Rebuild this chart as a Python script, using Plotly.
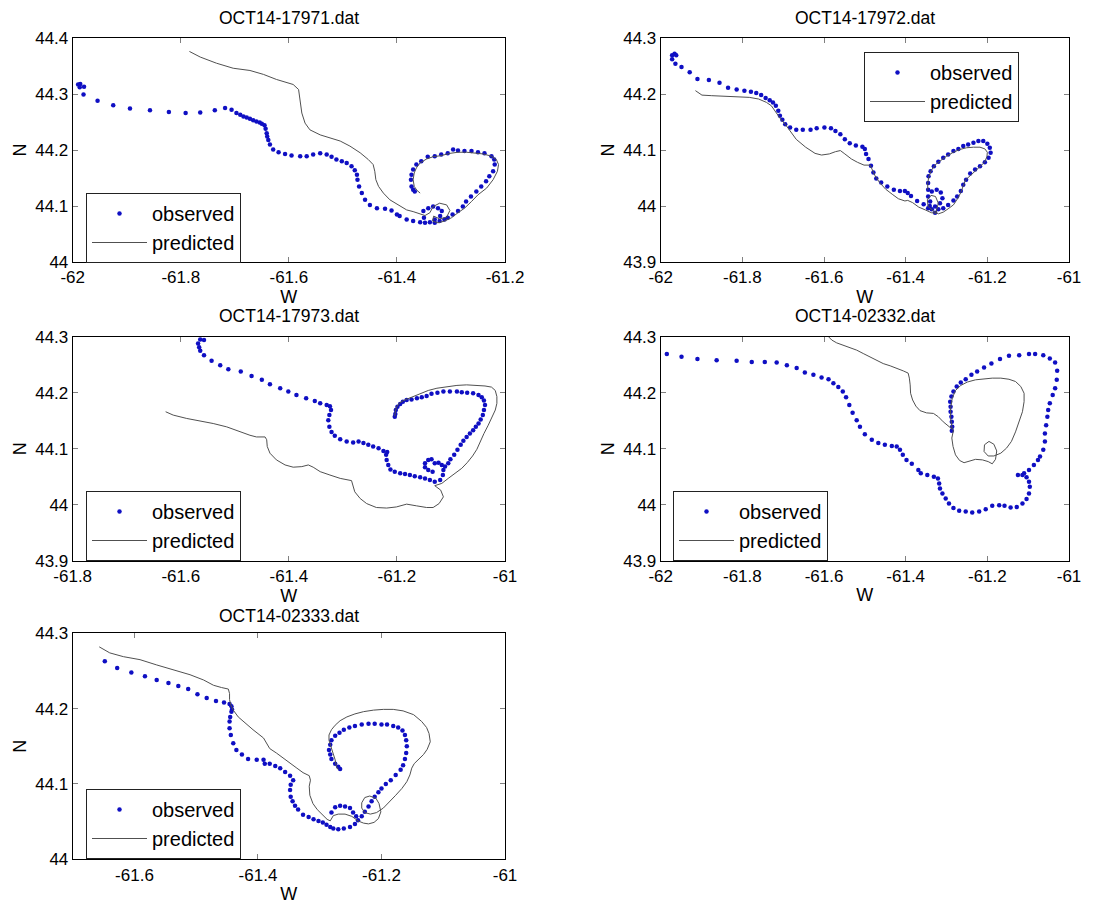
import plotly.graph_objects as go

W, H = 1114, 909
FONT = "Liberation Sans, Arial, Helvetica, sans-serif"
BLUE = "rgb(15,15,195)"
LINE = "#505050"

titles = ["OCT14-17971.dat", "OCT14-17972.dat", "OCT14-17973.dat",
          "OCT14-02332.dat", "OCT14-02333.dat"]

# ---------------- data: (longitude, latitude) ----------------
obs1 = [(-61.990, 44.317), (-61.986, 44.318), (-61.987, 44.312), (-61.979, 44.313), (-61.980, 44.299),
        (-61.954, 44.288), (-61.925, 44.280), (-61.894, 44.274), (-61.857, 44.271), (-61.822, 44.268),
        (-61.791, 44.266), (-61.764, 44.267), (-61.737, 44.271), (-61.718, 44.275), (-61.706, 44.272),
        (-61.697, 44.266), (-61.690, 44.263), (-61.684, 44.260), (-61.678, 44.258), (-61.672, 44.256),
        (-61.666, 44.253), (-61.660, 44.251), (-61.654, 44.249), (-61.650, 44.247), (-61.645, 44.244),
        (-61.643, 44.238), (-61.641, 44.230), (-61.640, 44.224), (-61.638, 44.218), (-61.635, 44.210),
        (-61.629, 44.201), (-61.619, 44.196), (-61.607, 44.193), (-61.595, 44.190), (-61.579, 44.189),
        (-61.567, 44.189), (-61.555, 44.192), (-61.542, 44.194), (-61.530, 44.192), (-61.521, 44.188),
        (-61.512, 44.183), (-61.502, 44.180), (-61.493, 44.177), (-61.484, 44.171), (-61.478, 44.164),
        (-61.474, 44.156), (-61.473, 44.147), (-61.470, 44.135), (-61.465, 44.123), (-61.459, 44.111),
        (-61.450, 44.102), (-61.437, 44.096), (-61.422, 44.095), (-61.410, 44.092), (-61.400, 44.085),
        (-61.395, 44.082), (-61.382, 44.076), (-61.370, 44.073), (-61.357, 44.071), (-61.348, 44.070),
        (-61.350, 44.079), (-61.351, 44.091), (-61.342, 44.096), (-61.333, 44.099), (-61.324, 44.096),
        (-61.317, 44.091), (-61.320, 44.082), (-61.330, 44.076), (-61.339, 44.071), (-61.330, 44.070),
        (-61.321, 44.073), (-61.312, 44.076), (-61.306, 44.079), (-61.297, 44.085), (-61.287, 44.091),
        (-61.278, 44.099), (-61.272, 44.108), (-61.263, 44.117), (-61.253, 44.126), (-61.244, 44.135),
        (-61.235, 44.144), (-61.229, 44.153), (-61.222, 44.162), (-61.219, 44.174), (-61.220, 44.183),
        (-61.225, 44.189), (-61.238, 44.194), (-61.250, 44.196), (-61.262, 44.198), (-61.275, 44.198),
        (-61.287, 44.199), (-61.296, 44.201), (-61.306, 44.194), (-61.318, 44.192), (-61.330, 44.189),
        (-61.343, 44.188), (-61.355, 44.180), (-61.364, 44.174), (-61.370, 44.165), (-61.373, 44.156),
        (-61.374, 44.147), (-61.373, 44.135), (-61.370, 44.129), (-61.367, 44.126)]

pred1 = [(-61.784, 44.376), (-61.764, 44.366), (-61.734, 44.355), (-61.703, 44.346), (-61.672, 44.342),
         (-61.647, 44.335), (-61.623, 44.326), (-61.592, 44.317), (-61.582, 44.308), (-61.579, 44.290),
         (-61.576, 44.266), (-61.570, 44.248), (-61.561, 44.236), (-61.542, 44.227), (-61.524, 44.221),
         (-61.505, 44.216), (-61.487, 44.207), (-61.468, 44.195), (-61.453, 44.183), (-61.444, 44.174),
         (-61.441, 44.162), (-61.439, 44.147), (-61.434, 44.135), (-61.425, 44.123), (-61.413, 44.111),
         (-61.400, 44.103), (-61.382, 44.093), (-61.370, 44.090), (-61.357, 44.086), (-61.348, 44.083),
         (-61.339, 44.088), (-61.333, 44.099), (-61.321, 44.105), (-61.308, 44.102), (-61.302, 44.092),
         (-61.308, 44.080), (-61.321, 44.077), (-61.332, 44.082), (-61.334, 44.073), (-61.324, 44.070),
         (-61.312, 44.073), (-61.299, 44.079), (-61.287, 44.088), (-61.275, 44.096), (-61.262, 44.108),
         (-61.250, 44.120), (-61.234, 44.132), (-61.222, 44.147), (-61.214, 44.162), (-61.212, 44.174),
         (-61.216, 44.183), (-61.225, 44.189), (-61.241, 44.193), (-61.256, 44.195), (-61.271, 44.196),
         (-61.287, 44.196), (-61.302, 44.194), (-61.318, 44.190), (-61.333, 44.188), (-61.345, 44.184),
         (-61.357, 44.177), (-61.364, 44.168), (-61.368, 44.159), (-61.370, 44.147), (-61.368, 44.135),
         (-61.363, 44.128), (-61.357, 44.123)]

obs2 = [(-61.972, 44.269), (-61.966, 44.272), (-61.962, 44.269), (-61.972, 44.262), (-61.964, 44.254),
        (-61.949, 44.248), (-61.929, 44.239), (-61.910, 44.227), (-61.882, 44.225), (-61.856, 44.220),
        (-61.835, 44.211), (-61.814, 44.208), (-61.795, 44.206), (-61.779, 44.204), (-61.766, 44.202),
        (-61.754, 44.198), (-61.743, 44.193), (-61.733, 44.189), (-61.725, 44.185), (-61.718, 44.179),
        (-61.712, 44.170), (-61.708, 44.161), (-61.702, 44.154), (-61.695, 44.146), (-61.683, 44.140),
        (-61.668, 44.136), (-61.652, 44.136), (-61.633, 44.136), (-61.618, 44.139), (-61.599, 44.140),
        (-61.583, 44.139), (-61.572, 44.134), (-61.560, 44.128), (-61.549, 44.119), (-61.537, 44.112),
        (-61.522, 44.108), (-61.506, 44.106), (-61.500, 44.102), (-61.497, 44.093), (-61.491, 44.084),
        (-61.485, 44.072), (-61.479, 44.060), (-61.472, 44.049), (-61.460, 44.042), (-61.445, 44.035),
        (-61.429, 44.029), (-61.414, 44.027), (-61.402, 44.027), (-61.395, 44.023), (-61.387, 44.018),
        (-61.372, 44.009), (-61.356, 44.003), (-61.341, 44.000),
        (-61.345, 44.017), (-61.336, 44.026), (-61.324, 44.029), (-61.314, 44.024), (-61.310, 44.014),
        (-61.316, 44.005), (-61.328, 43.999), (-61.336, 43.994), (-61.328, 43.988), (-61.340, 44.008),
        (-61.345, 43.996), (-61.320, 43.994), (-61.308, 43.996), (-61.296, 44.002), (-61.283, 44.010),
        (-61.274, 44.017), (-61.265, 44.027), (-61.259, 44.038), (-61.252, 44.047), (-61.242, 44.058),
        (-61.230, 44.065), (-61.218, 44.071), (-61.206, 44.078), (-61.197, 44.086), (-61.192, 44.095),
        (-61.194, 44.104), (-61.200, 44.111), (-61.210, 44.116), (-61.222, 44.116), (-61.234, 44.113),
        (-61.247, 44.110), (-61.259, 44.107), (-61.271, 44.102), (-61.283, 44.098), (-61.296, 44.092),
        (-61.308, 44.086), (-61.320, 44.079), (-61.331, 44.071), (-61.339, 44.062), (-61.344, 44.053),
        (-61.345, 44.041), (-61.345, 44.029)]

pred2 = [(-61.915, 44.206), (-61.910, 44.203), (-61.899, 44.198), (-61.875, 44.197), (-61.845, 44.196),
         (-61.814, 44.194), (-61.783, 44.194), (-61.760, 44.191), (-61.741, 44.185), (-61.729, 44.179),
         (-61.718, 44.167), (-61.706, 44.155), (-61.695, 44.146), (-61.683, 44.134), (-61.668, 44.119),
         (-61.645, 44.105), (-61.622, 44.094), (-61.606, 44.091), (-61.587, 44.093), (-61.572, 44.097),
         (-61.560, 44.099), (-61.549, 44.093), (-61.533, 44.084), (-61.518, 44.078), (-61.502, 44.073),
         (-61.487, 44.073), (-61.482, 44.066), (-61.475, 44.054), (-61.464, 44.042), (-61.449, 44.030),
         (-61.433, 44.021), (-61.418, 44.013), (-61.402, 44.009), (-61.395, 44.010), (-61.383, 44.006),
         (-61.368, 43.998), (-61.352, 43.993), (-61.337, 43.988), (-61.325, 43.987), (-61.324, 43.994),
         (-61.320, 44.005), (-61.327, 44.017), (-61.338, 44.019), (-61.347, 44.011), (-61.345, 43.999),
         (-61.332, 43.991), (-61.320, 43.986), (-61.308, 43.989), (-61.296, 43.995), (-61.283, 44.002),
         (-61.273, 44.013), (-61.265, 44.024), (-61.259, 44.036), (-61.253, 44.047), (-61.242, 44.054),
         (-61.230, 44.062), (-61.218, 44.070), (-61.207, 44.078), (-61.201, 44.088), (-61.200, 44.096),
         (-61.206, 44.102), (-61.218, 44.105), (-61.234, 44.105), (-61.251, 44.104), (-61.267, 44.101),
         (-61.283, 44.096), (-61.300, 44.089), (-61.314, 44.082), (-61.327, 44.074), (-61.336, 44.065),
         (-61.343, 44.053), (-61.346, 44.041), (-61.346, 44.029)]

obs3 = [(-61.564, 44.295), (-61.557, 44.294), (-61.568, 44.288), (-61.566, 44.281), (-61.564, 44.275),
        (-61.557, 44.267), (-61.543, 44.257), (-61.527, 44.249), (-61.512, 44.242), (-61.489, 44.238),
        (-61.469, 44.230), (-61.450, 44.223), (-61.435, 44.215), (-61.416, 44.208), (-61.401, 44.202),
        (-61.386, 44.196), (-61.368, 44.190), (-61.352, 44.185), (-61.342, 44.181), (-61.330, 44.178),
        (-61.324, 44.176), (-61.322, 44.169), (-61.325, 44.160), (-61.327, 44.151), (-61.325, 44.139),
        (-61.321, 44.130), (-61.315, 44.123), (-61.305, 44.117), (-61.293, 44.113), (-61.281, 44.111),
        (-61.271, 44.113), (-61.262, 44.110), (-61.253, 44.107), (-61.244, 44.104), (-61.234, 44.101),
        (-61.225, 44.096), (-61.218, 44.094), (-61.220, 44.089), (-61.219, 44.080), (-61.216, 44.071),
        (-61.212, 44.063), (-61.204, 44.059), (-61.194, 44.056), (-61.185, 44.055), (-61.176, 44.053),
        (-61.167, 44.051), (-61.157, 44.049), (-61.148, 44.047), (-61.139, 44.044), (-61.130, 44.041),
        (-61.120, 44.044), (-61.115, 44.053), (-61.114, 44.062), (-61.117, 44.071), (-61.123, 44.075),
        (-61.130, 44.074), (-61.136, 44.081), (-61.142, 44.080), (-61.148, 44.074), (-61.148, 44.067),
        (-61.142, 44.062), (-61.134, 44.059), (-61.111, 44.068), (-61.105, 44.074), (-61.101, 44.081),
        (-61.094, 44.089), (-61.088, 44.098), (-61.082, 44.107), (-61.077, 44.114), (-61.071, 44.121),
        (-61.065, 44.127), (-61.059, 44.133), (-61.054, 44.139), (-61.049, 44.145), (-61.045, 44.152),
        (-61.041, 44.160), (-61.039, 44.169), (-61.037, 44.178), (-61.039, 44.186), (-61.043, 44.192),
        (-61.049, 44.196), (-61.059, 44.199), (-61.070, 44.200), (-61.080, 44.201), (-61.089, 44.202),
        (-61.102, 44.202), (-61.114, 44.202), (-61.125, 44.200), (-61.136, 44.198), (-61.145, 44.194),
        (-61.154, 44.192), (-61.163, 44.190), (-61.173, 44.188), (-61.182, 44.187), (-61.189, 44.184),
        (-61.194, 44.180), (-61.199, 44.175), (-61.202, 44.169), (-61.203, 44.162), (-61.204, 44.157)]

pred3 = [(-61.628, 44.166), (-61.614, 44.160), (-61.589, 44.154), (-61.564, 44.150), (-61.540, 44.145),
         (-61.515, 44.139), (-61.490, 44.130), (-61.472, 44.124), (-61.460, 44.121), (-61.444, 44.121),
         (-61.441, 44.116), (-61.440, 44.104), (-61.435, 44.092), (-61.423, 44.080), (-61.407, 44.071),
         (-61.392, 44.067), (-61.376, 44.068), (-61.364, 44.071), (-61.355, 44.067), (-61.342, 44.059),
         (-61.324, 44.053), (-61.305, 44.047), (-61.284, 44.043), (-61.281, 44.032), (-61.278, 44.023),
         (-61.268, 44.011), (-61.256, 44.002), (-61.238, 43.995), (-61.219, 43.994), (-61.201, 43.996),
         (-61.182, 44.001), (-61.164, 43.998), (-61.145, 43.995), (-61.133, 43.995), (-61.122, 44.002),
         (-61.114, 44.014), (-61.119, 44.026), (-61.130, 44.034), (-61.117, 44.038), (-61.105, 44.047),
         (-61.093, 44.056), (-61.080, 44.065), (-61.070, 44.075), (-61.060, 44.087), (-61.052, 44.099),
         (-61.046, 44.113), (-61.039, 44.127), (-61.031, 44.142), (-61.025, 44.154), (-61.018, 44.169),
         (-61.015, 44.181), (-61.015, 44.193), (-61.018, 44.204), (-61.025, 44.210), (-61.037, 44.212),
         (-61.052, 44.213), (-61.071, 44.214), (-61.089, 44.213), (-61.108, 44.211), (-61.126, 44.208),
         (-61.142, 44.204), (-61.154, 44.199), (-61.167, 44.194), (-61.179, 44.190), (-61.188, 44.186),
         (-61.196, 44.181), (-61.201, 44.174), (-61.203, 44.166), (-61.204, 44.158)]

obs4 = [(-61.985, 44.269), (-61.949, 44.264), (-61.910, 44.260), (-61.863, 44.258), (-61.814, 44.257),
        (-61.777, 44.255), (-61.745, 44.255), (-61.716, 44.254), (-61.691, 44.249), (-61.667, 44.244),
        (-61.647, 44.236), (-61.626, 44.232), (-61.606, 44.227), (-61.589, 44.224), (-61.577, 44.217),
        (-61.565, 44.210), (-61.554, 44.202), (-61.546, 44.192), (-61.538, 44.178), (-61.530, 44.164),
        (-61.520, 44.151), (-61.512, 44.139), (-61.500, 44.126), (-61.483, 44.116), (-61.467, 44.110),
        (-61.451, 44.107), (-61.434, 44.105), (-61.422, 44.104), (-61.414, 44.098), (-61.407, 44.089),
        (-61.398, 44.080), (-61.385, 44.073), (-61.369, 44.062),
        (-61.363, 44.056), (-61.347, 44.053), (-61.331, 44.050), (-61.321, 44.047), (-61.318, 44.038),
        (-61.316, 44.029), (-61.310, 44.020), (-61.302, 44.011), (-61.294, 44.002), (-61.283, 43.994),
        (-61.269, 43.989), (-61.253, 43.988), (-61.237, 43.986), (-61.220, 43.988), (-61.204, 43.992),
        (-61.188, 43.998), (-61.171, 43.999), (-61.158, 43.998), (-61.143, 43.995), (-61.128, 43.996),
        (-61.114, 44.002), (-61.104, 44.010), (-61.098, 44.020), (-61.096, 44.032), (-61.098, 44.041),
        (-61.104, 44.049), (-61.114, 44.053), (-61.125, 44.053), (-61.110, 44.056), (-61.098, 44.062),
        (-61.086, 44.071), (-61.076, 44.080), (-61.071, 44.086), (-61.063, 44.098), (-61.059, 44.113),
        (-61.059, 44.127), (-61.056, 44.142), (-61.053, 44.157), (-61.051, 44.169), (-61.047, 44.181),
        (-61.040, 44.196), (-61.034, 44.208), (-61.030, 44.223), (-61.029, 44.239), (-61.034, 44.254),
        (-61.047, 44.261), (-61.063, 44.267), (-61.083, 44.269), (-61.098, 44.269), (-61.122, 44.267),
        (-61.147, 44.266), (-61.169, 44.260), (-61.190, 44.252), (-61.208, 44.245), (-61.225, 44.238),
        (-61.239, 44.232), (-61.253, 44.224), (-61.265, 44.218), (-61.275, 44.211), (-61.283, 44.202),
        (-61.288, 44.193), (-61.291, 44.184), (-61.290, 44.175), (-61.290, 44.166), (-61.288, 44.157),
        (-61.287, 44.148), (-61.286, 44.139), (-61.287, 44.132)]

pred4 = [(-61.589, 44.300), (-61.581, 44.294), (-61.569, 44.289), (-61.553, 44.285), (-61.536, 44.281),
         (-61.520, 44.276), (-61.504, 44.270), (-61.487, 44.264), (-61.471, 44.258), (-61.455, 44.252),
         (-61.438, 44.248), (-61.422, 44.244), (-61.406, 44.239), (-61.394, 44.235), (-61.391, 44.226),
         (-61.389, 44.214), (-61.388, 44.199), (-61.383, 44.187), (-61.375, 44.176), (-61.365, 44.168),
         (-61.349, 44.164), (-61.332, 44.163), (-61.320, 44.157), (-61.308, 44.148), (-61.296, 44.141),
         (-61.283, 44.133), (-61.287, 44.119), (-61.284, 44.104), (-61.278, 44.089), (-61.268, 44.079),
         (-61.257, 44.075), (-61.245, 44.078), (-61.229, 44.081), (-61.212, 44.080), (-61.198, 44.077),
         (-61.188, 44.073), (-61.180, 44.081), (-61.177, 44.096), (-61.184, 44.108), (-61.196, 44.113),
         (-61.207, 44.107), (-61.208, 44.095), (-61.198, 44.087), (-61.184, 44.087), (-61.167, 44.092),
         (-61.153, 44.101), (-61.141, 44.113), (-61.131, 44.130), (-61.122, 44.148), (-61.114, 44.166),
         (-61.110, 44.184), (-61.110, 44.199), (-61.118, 44.211), (-61.131, 44.220), (-61.147, 44.224),
         (-61.167, 44.226), (-61.188, 44.226), (-61.208, 44.224), (-61.229, 44.223), (-61.249, 44.219),
         (-61.265, 44.213), (-61.278, 44.204), (-61.286, 44.190), (-61.290, 44.172), (-61.290, 44.154),
         (-61.286, 44.136)]

obs5 = [(-61.648, 44.263), (-61.628, 44.254), (-61.605, 44.248), (-61.583, 44.243), (-61.564, 44.238),
        (-61.545, 44.234), (-61.529, 44.230), (-61.513, 44.226), (-61.498, 44.219), (-61.483, 44.214),
        (-61.468, 44.210), (-61.455, 44.208), (-61.446, 44.206), (-61.443, 44.203), (-61.442, 44.199),
        (-61.443, 44.196), (-61.445, 44.189), (-61.446, 44.183), (-61.446, 44.174), (-61.444, 44.165),
        (-61.440, 44.154), (-61.435, 44.145), (-61.426, 44.139), (-61.416, 44.133), (-61.402, 44.132),
        (-61.391, 44.132), (-61.389, 44.127), (-61.381, 44.127), (-61.372, 44.124), (-61.364, 44.121),
        (-61.356, 44.116), (-61.348, 44.111), (-61.343, 44.105), (-61.347, 44.099), (-61.348, 44.092),
        (-61.347, 44.083), (-61.344, 44.077), (-61.340, 44.071), (-61.335, 44.066), (-61.327, 44.059),
        (-61.318, 44.056), (-61.310, 44.053), (-61.302, 44.051), (-61.295, 44.049), (-61.289, 44.046),
        (-61.283, 44.043), (-61.278, 44.041), (-61.270, 44.040), (-61.261, 44.041), (-61.251, 44.043),
        (-61.243, 44.047), (-61.238, 44.052), (-61.281, 44.062), (-61.275, 44.069), (-61.267, 44.071),
        (-61.259, 44.070), (-61.251, 44.068), (-61.246, 44.062), (-61.241, 44.057), (-61.232, 44.057),
        (-61.227, 44.063), (-61.221, 44.070), (-61.216, 44.077), (-61.211, 44.083), (-61.205, 44.089),
        (-61.200, 44.094), (-61.193, 44.100), (-61.185, 44.105), (-61.177, 44.112), (-61.169, 44.119),
        (-61.165, 44.125), (-61.162, 44.133), (-61.160, 44.141), (-61.159, 44.150), (-61.160, 44.158),
        (-61.162, 44.165), (-61.166, 44.171), (-61.173, 44.175), (-61.181, 44.177), (-61.191, 44.179),
        (-61.200, 44.179), (-61.211, 44.180), (-61.221, 44.180), (-61.232, 44.179), (-61.243, 44.177),
        (-61.252, 44.175), (-61.261, 44.172), (-61.268, 44.168), (-61.275, 44.164), (-61.281, 44.158),
        (-61.283, 44.152), (-61.285, 44.145), (-61.283, 44.139), (-61.281, 44.133), (-61.275, 44.127),
        (-61.270, 44.123), (-61.267, 44.120)]

pred5 = [(-61.657, 44.282), (-61.640, 44.274), (-61.618, 44.269), (-61.591, 44.265), (-61.564, 44.258),
         (-61.537, 44.251), (-61.510, 44.245), (-61.488, 44.238), (-61.472, 44.231), (-61.459, 44.228),
         (-61.448, 44.226), (-61.446, 44.220), (-61.446, 44.212), (-61.444, 44.205), (-61.440, 44.198),
         (-61.432, 44.189), (-61.421, 44.181), (-61.408, 44.172), (-61.391, 44.161), (-61.381, 44.147),
         (-61.370, 44.141), (-61.359, 44.134), (-61.348, 44.127), (-61.337, 44.121), (-61.327, 44.115),
         (-61.317, 44.111), (-61.315, 44.105), (-61.317, 44.097), (-61.316, 44.085), (-61.311, 44.074),
         (-61.304, 44.066), (-61.295, 44.058), (-61.288, 44.053), (-61.283, 44.051), (-61.278, 44.058),
         (-61.270, 44.060), (-61.259, 44.060), (-61.248, 44.057), (-61.238, 44.051), (-61.229, 44.048),
         (-61.221, 44.047), (-61.212, 44.049), (-61.205, 44.054), (-61.201, 44.063), (-61.204, 44.074),
         (-61.209, 44.081), (-61.219, 44.084), (-61.227, 44.082), (-61.232, 44.075), (-61.232, 44.068),
         (-61.227, 44.062), (-61.218, 44.060), (-61.208, 44.062), (-61.197, 44.068), (-61.186, 44.077),
         (-61.177, 44.085), (-61.167, 44.094), (-61.159, 44.103), (-61.154, 44.112), (-61.151, 44.121),
         (-61.147, 44.127), (-61.140, 44.133), (-61.132, 44.139), (-61.126, 44.146), (-61.121, 44.156),
         (-61.123, 44.167), (-61.127, 44.175), (-61.135, 44.183), (-61.148, 44.192), (-61.165, 44.197),
         (-61.181, 44.199), (-61.197, 44.199), (-61.213, 44.198), (-61.229, 44.196), (-61.243, 44.193),
         (-61.256, 44.189), (-61.267, 44.184), (-61.275, 44.178), (-61.281, 44.172), (-61.285, 44.165),
         (-61.285, 44.158), (-61.282, 44.150), (-61.278, 44.141), (-61.275, 44.132), (-61.273, 44.123),
         (-61.270, 44.119)]

observed = [obs1, obs2, obs3, obs4, obs5]
predicted = [pred1, pred2, pred3, pred4, pred5]

x_ranges = [[-62, -61.2], [-62, -61], [-61.8, -61], [-62, -61], [-61.7, -61]]
y_ranges = [[44, 44.4], [43.9, 44.3], [43.9, 44.3], [43.9, 44.3], [44, 44.3]]
x_tickvals = [[-62, -61.8, -61.6, -61.4, -61.2],
              [-62, -61.8, -61.6, -61.4, -61.2, -61],
              [-61.8, -61.6, -61.4, -61.2, -61],
              [-62, -61.8, -61.6, -61.4, -61.2, -61],
              [-61.6, -61.4, -61.2, -61]]
x_ticktext = [["-62", "-61.8", "-61.6", "-61.4", "-61.2"],
              ["-62", "-61.8", "-61.6", "-61.4", "-61.2", "-61"],
              ["-61.8", "-61.6", "-61.4", "-61.2", "-61"],
              ["-62", "-61.8", "-61.6", "-61.4", "-61.2", "-61"],
              ["-61.6", "-61.4", "-61.2", "-61"]]
y_tickvals = [[44, 44.1, 44.2, 44.3, 44.4],
              [43.9, 44, 44.1, 44.2, 44.3],
              [43.9, 44, 44.1, 44.2, 44.3],
              [43.9, 44, 44.1, 44.2, 44.3],
              [44, 44.1, 44.2, 44.3]]
y_ticktext = [["44", "44.1", "44.2", "44.3", "44.4"],
              ["43.9", "44", "44.1", "44.2", "44.3"],
              ["43.9", "44", "44.1", "44.2", "44.3"],
              ["43.9", "44", "44.1", "44.2", "44.3"],
              ["44", "44.1", "44.2", "44.3"]]

# ---------------- layout geometry (pixels) ----------------
boxes = [(72.7, 38, 505, 262), (660.7, 38, 1069, 262),
         (72.7, 336.7, 505, 560.7), (660.7, 336.7, 1069, 560.7),
         (72.7, 633.3, 505, 859.3)]
title_y = [18, 18, 316, 316, 615.5]
legend_xy = [(86, 193), (864, 52), (86, 491), (673, 491), (86, 789)]

fig = go.Figure()
layout = dict(width=W, height=H, margin=dict(l=0, r=0, t=0, b=0, autoexpand=False),
              paper_bgcolor="white", plot_bgcolor="white",
              font=dict(family=FONT, color="black"), annotations=[])

for i in range(5):
    sfx = "" if i == 0 else str(i + 1)
    lg = "legend" + sfx
    l, t, r, b = boxes[i]
    ox, oy = zip(*observed[i])
    px, py = zip(*predicted[i])
    fig.add_trace(go.Scatter(x=list(ox), y=list(oy), mode="markers", name="observed",
                             marker=dict(color=BLUE, size=4.5), xaxis="x" + sfx, yaxis="y" + sfx,
                             legend=lg))
    fig.add_trace(go.Scatter(x=list(px), y=list(py), mode="lines", name="predicted",
                             line=dict(color=LINE, width=1), xaxis="x" + sfx, yaxis="y" + sfx,
                             legend=lg))
    common = dict(showline=True, linecolor="black", linewidth=1, mirror="ticks",
                  ticks="inside", ticklen=5, tickcolor="#808080", showgrid=False,
                  zeroline=False, fixedrange=True, automargin=False,
                  tickfont=dict(family=FONT, size=17, color="black"))
    layout["xaxis" + sfx] = dict(common, domain=[l / W, r / W], range=x_ranges[i],
                                 anchor="y" + sfx, tickvals=x_tickvals[i], ticktext=x_ticktext[i],
                                 title=dict(text="W", font=dict(size=18), standoff=3))
    layout["yaxis" + sfx] = dict(common, domain=[1 - b / H, 1 - t / H], range=y_ranges[i],
                                 anchor="x" + sfx, tickvals=y_tickvals[i], ticktext=y_ticktext[i],
                                 title=dict(text="N", font=dict(size=18), standoff=3))
    lx, ly = legend_xy[i]
    layout[lg] = dict(x=lx / W, y=1 - ly / H, xanchor="left", yanchor="top",
                      bgcolor="white", bordercolor="#222", borderwidth=1,
                      font=dict(family=FONT, size=20, color="black"), itemwidth=55,
                      tracegroupgap=0)
    layout["annotations"].append(dict(text=titles[i], x=(l + r) / 2 / W, y=1 - title_y[i] / H,
                                      xref="paper", yref="paper", xanchor="center",
                                      yanchor="middle", showarrow=False,
                                      font=dict(family=FONT, size=17.5, color="black")))

fig.update_layout(**layout)
fig.write_html("out.html", config={"displayModeBar": False},
               post_script="document.body.style.margin='0';")
